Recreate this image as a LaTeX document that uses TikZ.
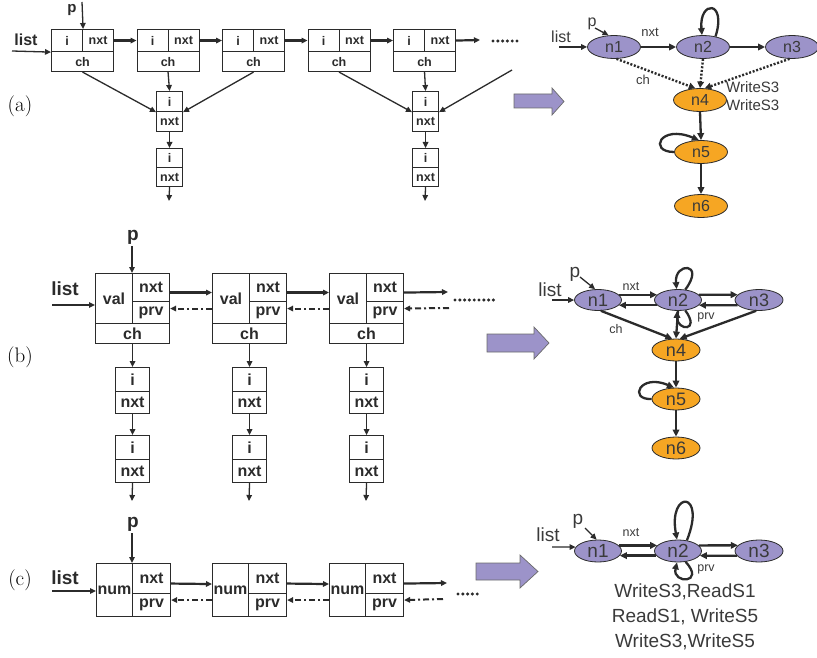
\documentclass[tikz,border=0pt]{standalone}
\usepackage{fontspec}
\newfontfamily\arial{Liberation Sans}
\usetikzlibrary{arrows.meta,shapes.geometric,calc}
\definecolor{ln}{HTML}{2B2B2B}
\definecolor{txt}{HTML}{3A3A3A}
\definecolor{lav}{HTML}{9C93C9}
\definecolor{org}{HTML}{F6A623}
\begin{document}
\begin{tikzpicture}[x=1pt,y=-1pt,
  cell/.style={draw=ln, line width=1.1pt, inner sep=0pt, anchor=north west, text=ln},
  acell/.style={cell, font=\arial\bfseries\fontsize{12.5}{12.5}\selectfont},
  bcell/.style={cell, font=\arial\bfseries\fontsize{16}{16}\selectfont},
  conn/.style={draw=ln, line width=1.3pt, -{Triangle[length=6pt,width=5.5pt]}},
  tconn/.style={conn, line width=2.2pt},
  dconn/.style={draw=ln, line width=2pt, dash pattern=on 6pt off 3pt on 2pt off 3pt, -{Triangle[length=6pt,width=5.5pt]}},
  dots/.style={draw=ln, line width=3.4pt, line cap=round, dash pattern=on 0pt off 4.8pt},
  lbl/.style={text=ln, inner sep=0pt, font=\arial\bfseries\fontsize{#1}{#1}\selectfont},
  pan/.style={text=black, inner sep=0pt, font=\fontsize{21}{21}\selectfont},
  gv/.style={ellipse, draw=ln, line width=0.8pt, fill=lav, inner sep=0pt, text=txt},
  go/.style={gv, fill=org},
  gedge/.style={draw=ln, line width=2.3pt, -{Triangle[length=7pt,width=6.5pt]}},
  gthin/.style={draw=ln, line width=1.3pt, -{Triangle[length=6pt,width=5.5pt]}},
  gdot/.style={draw=ln, line width=2.4pt, dash pattern=on 2pt off 1.7pt, -{Triangle[length=6.5pt,width=6.5pt]}},
  gl/.style={text=txt, inner sep=0pt, font=\arial\fontsize{#1}{#1}\selectfont},
  bigarrow/.style={fill=lav, draw=ln!70, line width=0.7pt}
]
\useasboundingbox (0,0) rectangle (817,658);

% ================= (a) =================
\node[pan] (la) at (20,106) {(a)};
\node[lbl=16] (alist) at (26,40) {list};
\node[lbl=15] (ap) at (72,10) {p};
\foreach \k/\x in {1/51,2/136.5,3/222,4/307.5,5/393}{
  \node[acell, minimum width=31, minimum height=22] (ai\k) at (\x,29) {i};
  \node[acell, minimum width=31, minimum height=22] (an\k) at (\x+31,29) {nxt};
  \node[acell, minimum width=62, minimum height=20] (ac\k) at (\x,51) {ch};
}
\foreach \k/\j in {1/2,2/3,3/4,4/5}{ \draw[tconn] (an\k.east) -- (ai\j.west); }
\coordinate (aend) at (480,40);
\draw[tconn] (an5.east) -- (aend);
\draw[dots] (493,41) -- (521,41);
\coordinate (alistS) at (12,51);
\draw[conn] (alistS) -- (ai1.south west);
\coordinate (apS) at (82,2);
\draw[conn] (apS) -- (ai1.north east);
% children
\foreach \m/\x in {1/156,2/412}{
  \node[acell, minimum width=26, minimum height=20] (ki\m) at (\x,91) {i};
  \node[acell, minimum width=26, minimum height=20] (kn\m) at (\x,111) {nxt};
  \node[acell, minimum width=26, minimum height=19] (kj\m) at (\x,148) {i};
  \node[acell, minimum width=26, minimum height=19] (kk\m) at (\x,167) {nxt};
  \coordinate (kend\m) at (\x+13,201);
  \draw[conn] (kn\m.south) -- (kj\m.north);
  \draw[conn] (kk\m.south) -- (kend\m);
}
\draw[conn] (ac1.south) -- (ki1.south west);
\draw[conn] (ac2.south) -- (ki1.north);
\draw[conn] (ac3.south) -- (ki1.south east);
\draw[conn] (ac4.south) -- (ki2.south west);
\draw[conn] (ac5.south) -- (ki2.north);
\coordinate (anext) at (512,70);
\draw[conn] (anext) -- (ki2.south east);

% big arrow (a)
\draw[bigarrow] (514,94) -- (552,94) -- (552,88) -- (564,101.5) -- (552,115) -- (552,108) -- (514,108) -- cycle;

% graph (a)
\node[gv, minimum width=53, minimum height=23, font=\arial\fontsize{16}{16}\selectfont] (ga1) at (614,47) {n1};
\node[gv, minimum width=53, minimum height=23, font=\arial\fontsize{16}{16}\selectfont] (ga2) at (703,47) {n2};
\node[gv, minimum width=53, minimum height=23, font=\arial\fontsize{16}{16}\selectfont] (ga3) at (792,47) {n3};
\node[go, minimum width=53, minimum height=23, font=\arial\fontsize{16}{16}\selectfont] (ga4) at (700,100) {n4};
\node[go, minimum width=53, minimum height=23, font=\arial\fontsize{16}{16}\selectfont] (ga5) at (701,152) {n5};
\node[go, minimum width=53, minimum height=23, font=\arial\fontsize{16}{16}\selectfont] (ga6) at (701,206) {n6};
\node[gl=16] (galist) at (561,37) {list};
\node[gl=16] (gap) at (592,24) {p};
\node[gl=13] (ganxt) at (650,32) {nxt};
\node[gl=13] (gach) at (643,80) {ch};
\node[gl=15, anchor=west] (gaw1) at (726,87) {WriteS3};
\node[gl=15, anchor=west] (gaw2) at (726,105) {WriteS3};
\coordinate (galistS) at (559,47);
\draw[gthin] (galistS) -- (ga1.west);
\coordinate (gapS) at (595,28);
\draw[gthin] (gapS) -- (ga1.115);
\draw[gedge] (ga1.east) -- (ga2.west);
\draw[gedge] (ga2.east) -- (ga3.west);
\draw[gedge] (ga2.40) .. controls (727,0) and (699,0) .. (ga2.95);
\draw[gdot] (ga1.-78) -- (ga4.112);
\draw[gdot] (ga2.south) -- (ga4.north);
\draw[gdot] (ga3.-102) -- (ga4.68);
\draw[gedge] (ga4.south) -- (ga5.north);
\draw[gedge] (ga5.west) .. controls (648,152) and (660,124) .. (ga5.100);
\draw[gedge] (ga5.south) -- (ga6.north);

% ================= (b) =================
\node[pan] (lb) at (20,357) {(b)};
\node[lbl=19] (blist) at (65,289) {list};
\node[lbl=19] (bp) at (133,237) {p};
\foreach \k/\x in {1/95,2/212,3/329}{
  \node[bcell, minimum width=37, minimum height=50] (bv\k) at (\x,273) {val};
  \node[bcell, minimum width=37, minimum height=28] (bn\k) at (\x+37,273) {nxt};
  \node[bcell, minimum width=37, minimum height=22] (bq\k) at (\x+37,301) {prv};
  \node[bcell, minimum width=74, minimum height=20] (bc\k) at (\x,323) {ch};
  \node[bcell, minimum width=34, minimum height=24] (bi\k) at (\x+20,367) {i};
  \node[bcell, minimum width=34, minimum height=22] (bj\k) at (\x+20,391) {nxt};
  \node[bcell, minimum width=34, minimum height=24] (bk\k) at (\x+20,435) {i};
  \node[bcell, minimum width=34, minimum height=23] (bl\k) at (\x+20,459) {nxt};
  \coordinate (bend\k) at (\x+37,501);
  \draw[conn] (bc\k.south) -- (bi\k.north);
  \draw[conn] (bj\k.south) -- (bk\k.north);
  \draw[conn] (bl\k.south) -- (bend\k);
}
\foreach \k/\j in {1/2,2/3}{
  \draw[tconn] ([yshift=-5pt]bn\k.east) -- ([yshift=6pt]bv\j.west);
  \draw[dconn] ([yshift=-10pt]bv\j.west) -- ([yshift=4pt]bq\k.east);
}
\coordinate (bnx) at (448,292);
\draw[tconn] ([yshift=-5pt]bn3.east) -- (bnx);
\coordinate (bpx) at (449,308);
\draw[dconn] (bpx) -- ([yshift=4pt]bq3.east);
\draw[dots] (455,300) -- (497,300);
\coordinate (blistS) at (52,305);
\draw[tconn] (blistS) -- (bv1.west |- blistS);
\coordinate (bpS) at (132,246);
\draw[conn] (bpS) -- (bn1.north west);

% big arrow (b)
\draw[bigarrow] (487,334) -- (534,334) -- (534,327) -- (549,343) -- (534,359) -- (534,352) -- (487,352) -- cycle;

% graph (b)
\node[gv, minimum width=47, minimum height=21, font=\arial\fontsize{18}{18}\selectfont] (gb1) at (598,300) {n1};
\node[gv, minimum width=47, minimum height=21, font=\arial\fontsize{18}{18}\selectfont] (gb2) at (678,300) {n2};
\node[gv, minimum width=48, minimum height=21, font=\arial\fontsize{18}{18}\selectfont] (gb3) at (759,300) {n3};
\node[go, minimum width=48, minimum height=22, font=\arial\fontsize{18}{18}\selectfont] (gb4) at (676,350) {n4};
\node[go, minimum width=48, minimum height=22, font=\arial\fontsize{18}{18}\selectfont] (gb5) at (676,399) {n5};
\node[go, minimum width=48, minimum height=22, font=\arial\fontsize{18}{18}\selectfont] (gb6) at (676,448) {n6};
\node[gl=19] (gblist) at (550,290) {list};
\node[gl=19] (gbp) at (575,274) {p};
\node[gl=12.5] (gbnxt) at (631,287) {nxt};
\node[gl=12.5] (gbch) at (616,329) {ch};
\node[gl=12.5] (gbprv) at (706,317) {prv};
\coordinate (gblistS) at (552,300);
\draw[gthin] (gblistS) -- (gb1.west);
\coordinate (gbpS) at (580,277);
\draw[gthin] (gbpS) -- (gb1.105);
\draw[gedge] (gb1.14) -- (gb2.166);
\draw[gedge] (gb2.-166) -- (gb1.-14);
\draw[gedge] (gb2.14) -- (gb3.166);
\draw[gedge] (gb3.-166) -- (gb2.-14);
\draw[gedge] (gb2.55) .. controls (706,262) and (674,262) .. (gb2.97);
\draw[gedge] (gb2.-55) .. controls (701,332) and (677,331) .. (gb2.-95);
\draw[gedge] (gb1.-75) -- (gb4.108);
\draw[gedge] (gb2.south) -- (gb4.north);
\draw[gedge] (gb3.-105) -- (gb4.72);
\draw[gedge] (gb4.south) -- (gb5.north);
\draw[gedge] (gb5.west) .. controls (628,400) and (640,373) .. (gb5.100);
\draw[gedge] (gb5.south) -- (gb6.north);

% ================= (c) =================
\node[pan] (lc) at (20,580) {(c)};
\node[lbl=19] (clist) at (65,578) {list};
\node[lbl=19] (cp) at (133,524) {p};
\foreach \k/\x in {1/96,2/212,3/329}{
  \node[bcell, minimum width=36, minimum height=53] (cu\k) at (\x,563) {num};
  \node[bcell, minimum width=38, minimum height=30] (cn\k) at (\x+36,563) {nxt};
  \node[bcell, minimum width=38, minimum height=23] (cq\k) at (\x+36,593) {prv};
}
\foreach \k/\j in {1/2,2/3}{
  \draw[tconn] ([yshift=-5pt]cn\k.east) -- ([yshift=6pt]cu\j.west);
  \draw[dconn] ([yshift=-10pt]cu\j.west) -- ([yshift=5pt]cq\k.east);
}
\coordinate (cnx) at (447,583);
\draw[tconn] ([yshift=-5pt]cn3.east) -- (cnx);
\coordinate (cpx) at (443,599);
\draw[dconn] (cpx) -- ([yshift=5pt]cq3.east);
\draw[dots] (458,594) -- (478,594);
\coordinate (clistS) at (52,591);
\draw[tconn] (clistS) -- (cu1.west |- clistS);
\coordinate (cpS) at (132,533);
\draw[conn] (cpS) -- (cn1.north west);

% big arrow (c)
\draw[bigarrow] (476,563) -- (520,563) -- (520,555) -- (538,571.5) -- (520,588) -- (520,580) -- (476,580) -- cycle;

% graph (c)
\node[gv, minimum width=47, minimum height=22, font=\arial\fontsize{19}{19}\selectfont] (gc1) at (598,551) {n1};
\node[gv, minimum width=47, minimum height=22, font=\arial\fontsize{19}{19}\selectfont] (gc2) at (678,551) {n2};
\node[gv, minimum width=48, minimum height=22, font=\arial\fontsize{19}{19}\selectfont] (gc3) at (759,551) {n3};
\node[gl=19] (gclist) at (548,535) {list};
\node[gl=19] (gcp) at (578,521) {p};
\node[gl=12.5] (gcnxt) at (631,533) {nxt};
\node[gl=12.5] (gcprv) at (706,569) {prv};
\node[gl=19] (gct1) at (685,592) {WriteS3,ReadS1};
\node[gl=19] (gct2) at (685,617) {ReadS1, WriteS5};
\node[gl=19] (gct3) at (685,642) {WriteS3,WriteS5};
\coordinate (gclistS) at (552,547);
\draw[gthin] (gclistS) -- (gc1.170);
\coordinate (gcpS) at (585,528);
\draw[gthin] (gcpS) -- (gc1.97);
\draw[gedge] (gc1.15) -- (gc2.165);
\draw[gedge] (gc2.-168) -- (gc1.-12);
\draw[gedge] (gc2.15) -- (gc3.165);
\draw[gedge] (gc3.-168) -- (gc2.-12);
\draw[gedge] (gc2.50) .. controls (707,490) and (668,490) .. (gc2.95);
\draw[gedge] (gc2.-55) .. controls (706,584) and (672,584) .. (gc2.-95);
\end{tikzpicture}
\end{document}
